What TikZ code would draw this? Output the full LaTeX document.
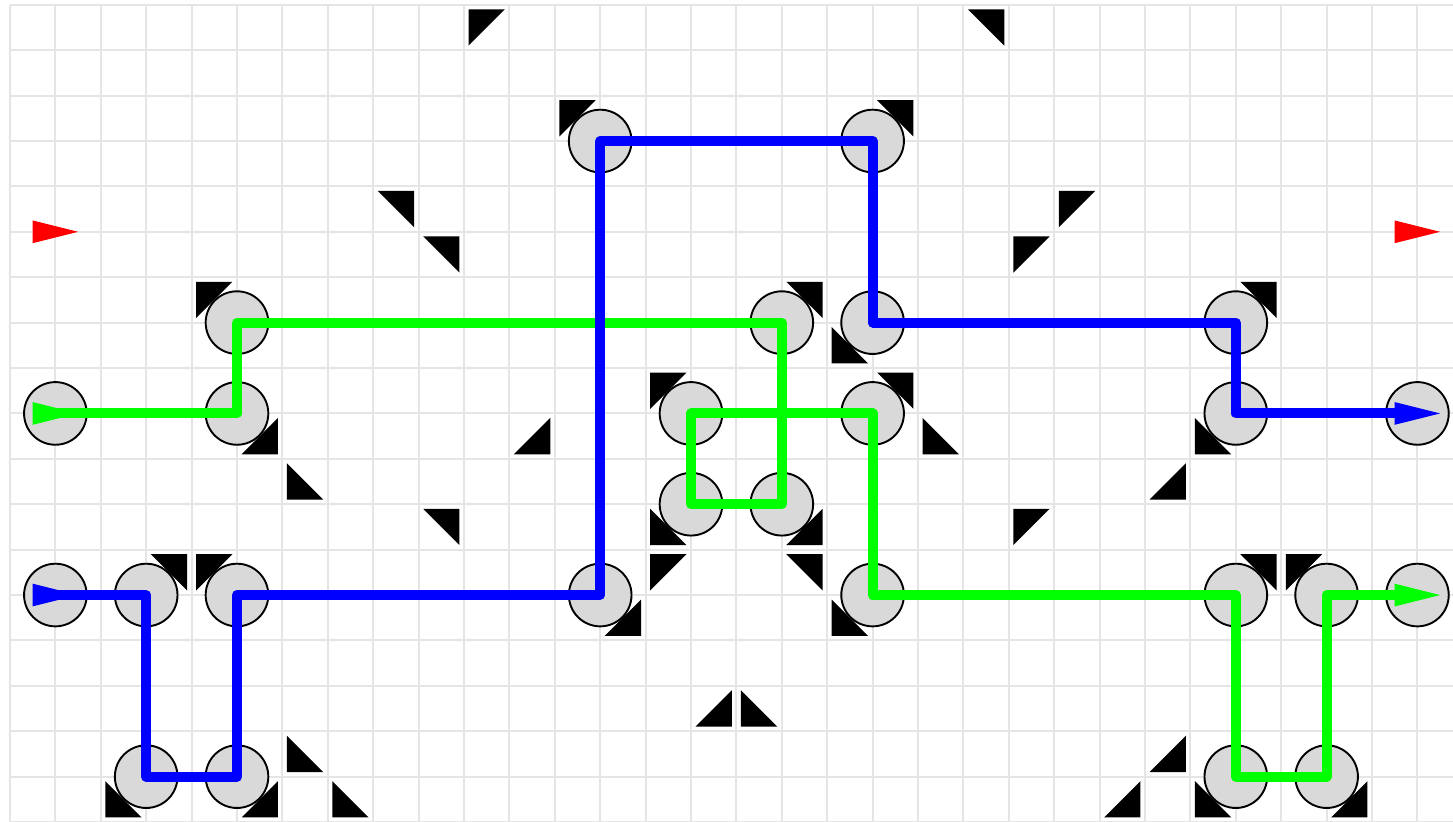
\documentclass[tikz,border=0pt]{standalone}
\usepackage{tikz}

\begin{document}
\begin{tikzpicture}[
    x=1cm, y=-1cm,
    node/.style={circle, draw, fill=black!15, minimum size=13.8mm, inner sep=0pt, line width=1.2pt},
    route/.style={line width=6.3pt, line join=round},
    tile/.style={fill=black},
    dart/.pic={\fill (-0.5,-0.25) -- (0.5,0) -- (-0.5,0.25) -- cycle;}
]
    \clip (-0.22,-0.106) rectangle (31.784,17.978);
    \draw[black!10, line width=1.25pt] (0,0) grid (32,19);

    \foreach \cx/\ry in {10/0, 12/2, 23/4, 22/5, 4/6, 14/8, 22/11, 4/12, 14/12, 28/12}
        \fill[tile] (\cx+0.1,\ry+0.1) -- (\cx+0.9,\ry+0.1) -- (\cx+0.1,\ry+0.9) -- cycle;
    \foreach \cx/\ry in {21/0, 19/2, 8/4, 9/5, 17/6, 27/6, 19/8, 9/11, 3/12, 17/12, 27/12}
        \fill[tile] (\cx+0.1,\ry+0.1) -- (\cx+0.9,\ry+0.1) -- (\cx+0.9,\ry+0.9) -- cycle;
    \foreach \cx/\ry in {18/7, 20/9, 26/9, 6/10, 14/11, 18/13, 16/15, 6/16, 2/17, 7/17, 26/17}
        \fill[tile] (\cx+0.1,\ry+0.1) -- (\cx+0.1,\ry+0.9) -- (\cx+0.9,\ry+0.9) -- cycle;
    \foreach \cx/\ry in {5/9, 11/9, 25/10, 17/11, 13/13, 15/15, 25/16, 5/17, 24/17, 29/17}
        \fill[tile] (\cx+0.9,\ry+0.1) -- (\cx+0.9,\ry+0.9) -- (\cx+0.1,\ry+0.9) -- cycle;

    \pic[red] at (1,5) {dart};
    \pic[red] at (31,5) {dart};

    \foreach \p [count=\i from 0] in {(1,13), (3,13), (3,17), (5,17), (5,13), (13,13),
        (13,3), (19,3), (19,7), (27,7), (27,9), (31,9)}
        \node[node] (b\i) at \p {};
    \foreach \p [count=\i from 0] in {(1,9), (5,9), (5,7), (17,7), (17,11), (15,11), (15,9),
        (19,9), (19,13), (27,13), (27,17), (29,17), (29,13), (31,13)}
        \node[node] (g\i) at \p {};

    \draw[route, green] (g0.center) \foreach \i in {1,...,13} { -- (g\i.center) };
    \draw[route, blue] (b0.center) \foreach \i in {1,...,11} { -- (b\i.center) };

    \pic[green] at (g0) {dart};
    \pic[green] at (g13) {dart};
    \pic[blue] at (b0) {dart};
    \pic[blue] at (b11) {dart};
\end{tikzpicture}
\end{document}
